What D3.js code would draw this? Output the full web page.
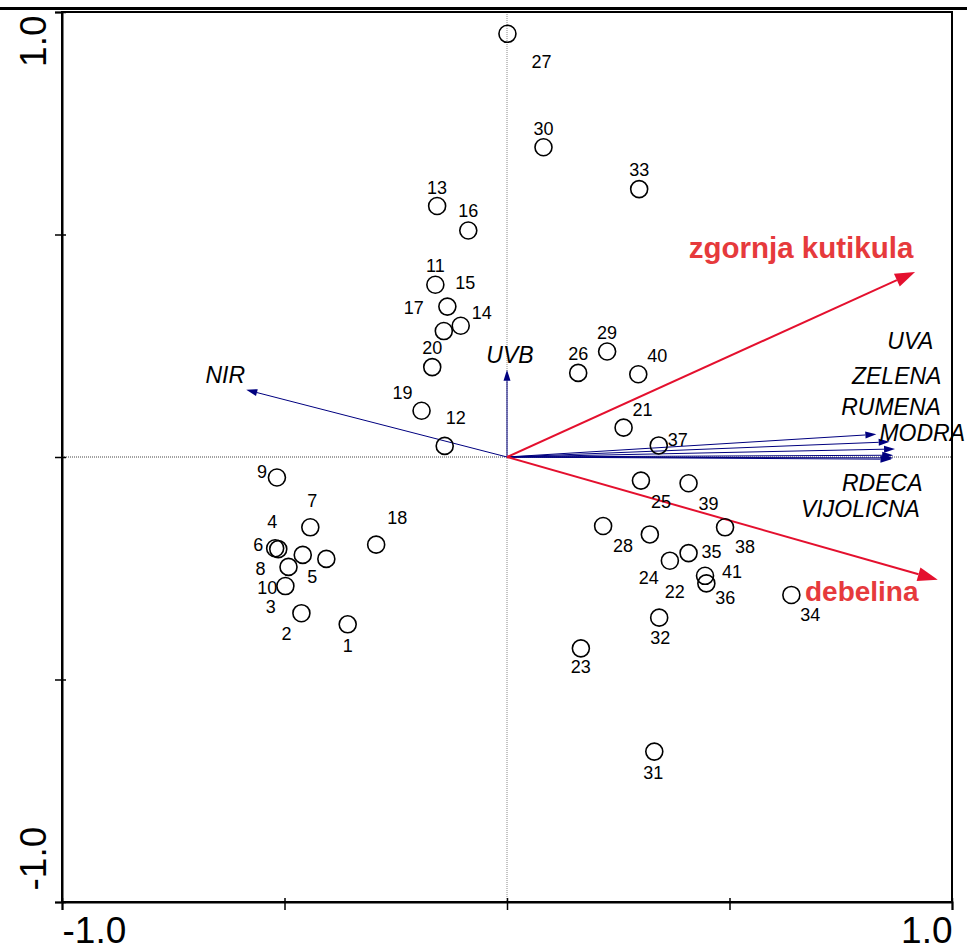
<!DOCTYPE html>
<html>
<head>
<meta charset="utf-8">
<script src="https://cdn.jsdelivr.net/npm/d3@7/dist/d3.min.js"></script>
<style>
  html, body { margin: 0; padding: 0; background: #fff; }
  svg { display: block; }
</style>
</head>
<body>
<svg id="chart" width="967" height="952"></svg>
<script>
// Sample scores (axis 1, axis 2)
const sampleIds = [1, 2, 3, 4, 5, 6, 7, 8, 9, 10,
  11, 12, 13, 14, 15, 16, 17, 18, 19, 20,
  21, 22, 23, 24, 25, 26, 27, 28, 29, 30,
  31, 32, 33, 34, 35, 36, 37, 38, 39, 40, 41];
const sampleX = [-0.358, -0.462, -0.459, -0.521, -0.406, -0.514, -0.442, -0.491, -0.517, -0.498,
  -0.161, -0.140, -0.157, -0.104, -0.134, -0.087, -0.142, -0.294, -0.192, -0.168,
  0.262, 0.366, 0.166, 0.321, 0.301, 0.160, 0.001, 0.216, 0.225, 0.082,
  0.331, 0.342, 0.297, 0.639, 0.408, 0.448, 0.341, 0.490, 0.408, 0.295, 0.445];
const sampleY = [-0.376, -0.351, -0.220, -0.205, -0.229, -0.207, -0.158, -0.247, -0.046, -0.290,
  0.387, 0.025, 0.564, 0.295, 0.338, 0.509, 0.283, -0.197, 0.104, 0.202,
  0.066, -0.233, -0.430, -0.174, -0.053, 0.189, 0.951, -0.155, 0.237, 0.696,
  -0.662, -0.361, 0.602, -0.310, -0.216, -0.284, 0.026, -0.158, -0.059, 0.186, -0.267];

// Environmental variables drawn as biplot arrows
const spectralNames = ["UVA", "ZELENA", "RUMENA", "MODRA", "RDECA", "VIJOLICNA"];
const spectralX = [0.830, 0.860, 0.872, 0.868, 0.868, 0.864];
const spectralY = [0.051, 0.034, 0.018, 0.004, -0.002, -0.005];

const otherNames = ["NIR", "UVB"];
const otherX = [-0.586, 0.0];
const otherY = [0.151, 0.196];

const leafNames = ["zgornja kutikula", "debelina"];
const leafX = [0.917, 0.968];
const leafY = [0.416, -0.276];

const axisTicks = [-1, -0.5, 0, 0.5, 1];
const axisTickLabels = ["-1.0", "", "", "", "1.0"];

// ---- layout ----
const W = 967, H = 952;
const plot = { left: 62, right: 952, top: 12, bottom: 902 };
const BLUE = "#00007f";
const RED_LINE = "#e4102e";
const RED_TEXT = "#e63a3c";

// label placement (pixel offsets from each mark's own position)
const sampleLabelOffset = {
  1: [0, 21], 2: [-15, 20], 3: [-32, 52], 4: [-3, -27], 5: [-14, 18], 6: [-20, -5],
  7: [2, -27], 8: [-28, 2], 9: [-15, -6], 10: [-18, 1], 11: [0, -19], 12: [11, -28],
  13: [0, -19], 14: [21, -13], 15: [18, -24], 16: [0, -20], 17: [-30, -24], 18: [21, -27],
  19: [-19, -18], 20: [0, -20], 21: [19, -18], 22: [5, 31], 23: [0, 18], 24: [-1, 43],
  25: [20, 21], 26: [0, -19], 27: [34, 28], 28: [20, 20], 29: [0, -19], 30: [0, -19],
  31: [-1, 21], 32: [1, 20], 33: [0, -20], 34: [19, 20], 35: [23, -2], 36: [19, 14],
  37: [19, -6], 38: [20, 19], 39: [20, 20], 40: [19, -19], 41: [27, -4]
};
const spectralLabelOffset = {
  UVA: [34, -94], ZELENA: [7, -66], RUMENA: [-4, -42], MODRA: [29, -22],
  RDECA: [-11, 25], VIJOLICNA: [-31, 50]
};
const otherLabelOffset = { NIR: [-21, -15], UVB: [3, -15] };
const leafLabelOffset = { "zgornja kutikula": [-114, -24], debelina: [-76, 11] };

const svg = d3.select("#chart");

const x = d3.scaleLinear().domain([-1, 1]).range([plot.left, plot.right]);
const y = d3.scaleLinear().domain([-1, 1]).range([plot.bottom, plot.top]);

// band above the figure
svg.append("line")
  .attr("x1", 0).attr("x2", W).attr("y1", 8.5).attr("y2", 8.5)
  .attr("stroke", "#000").attr("stroke-width", 3);

// zero reference lines (dotted)
svg.append("line")
  .attr("x1", plot.left).attr("x2", plot.right)
  .attr("y1", y(0)).attr("y2", y(0))
  .attr("stroke", "#444").attr("stroke-width", 1).attr("stroke-dasharray", "1,1");
svg.append("line")
  .attr("x1", x(0)).attr("x2", x(0))
  .attr("y1", plot.top).attr("y2", plot.bottom)
  .attr("stroke", "#888").attr("stroke-width", 1).attr("stroke-dasharray", "1,1");

// frame
svg.append("rect")
  .attr("x", plot.left).attr("y", plot.top)
  .attr("width", plot.right - plot.left).attr("height", plot.bottom - plot.top)
  .attr("fill", "none").attr("stroke", "#000").attr("stroke-width", 2);

// bottom axis
const fmt = d => axisTickLabels[axisTicks.indexOf(d)];
const gx = svg.append("g")
  .attr("transform", `translate(0,${plot.bottom})`)
  .call(d3.axisBottom(x).tickValues(axisTicks).tickFormat(fmt).tickSize(8).tickPadding(12));
gx.select(".domain").attr("stroke", "#000").attr("stroke-width", 2);
gx.selectAll(".tick line").attr("y1", -4).attr("y2", 8).attr("stroke", "#000").attr("stroke-width", 1.5);
gx.selectAll(".tick text")
  .attr("font-family", "'Liberation Sans', Arial, sans-serif")
  .attr("font-size", 37).attr("fill", "#000")
  .attr("dy", null).attr("y", 41)
  .attr("text-anchor", d => d < 0 ? "start" : "end");

// left axis
const gy = svg.append("g")
  .attr("transform", `translate(${plot.left},0)`)
  .call(d3.axisLeft(y).tickValues(axisTicks).tickFormat(fmt).tickSize(7));
gy.select(".domain").attr("stroke", "#000").attr("stroke-width", 2);
gy.selectAll(".tick line").attr("x1", -7).attr("x2", 4).attr("stroke", "#000").attr("stroke-width", 1.5);
gy.selectAll(".tick text")
  .attr("font-family", "'Liberation Sans', Arial, sans-serif")
  .attr("font-size", 37).attr("fill", "#000")
  .attr("x", null).attr("dy", null)
  .attr("transform", d => `translate(-16,${d > 0 ? 3 : -12}) rotate(-90)`)
  .attr("text-anchor", d => d > 0 ? "end" : "start");

// arrow helper: line from origin to tip with a filled head
function arrow(g, tx, ty, color, width, headLen, headHalf) {
  const x0 = x(0), y0 = y(0), x1 = x(tx), y1 = y(ty);
  const ang = Math.atan2(y1 - y0, x1 - x0);
  const bx = x1 - headLen * Math.cos(ang), by = y1 - headLen * Math.sin(ang);
  g.append("line")
    .attr("x1", x0).attr("y1", y0).attr("x2", bx).attr("y2", by)
    .attr("stroke", color).attr("stroke-width", width);
  const px = -Math.sin(ang) * headHalf, py = Math.cos(ang) * headHalf;
  g.append("polygon")
    .attr("points", [[x1, y1], [bx + px, by + py], [bx - px, by - py]].map(p => p.join(",")).join(" "))
    .attr("fill", color);
}

const arrows = svg.append("g");
spectralNames.forEach((n, i) => arrow(arrows, spectralX[i], spectralY[i], BLUE, 1, 11, 3.5));
otherNames.forEach((n, i) => arrow(arrows, otherX[i], otherY[i], BLUE, 1, 11, 3.5));
leafNames.forEach((n, i) => arrow(arrows, leafX[i], leafY[i], RED_LINE, 2, 20, 7));

// sample circles
const samples = sampleIds.map((id, i) => ({ id, sx: sampleX[i], sy: sampleY[i] }));
svg.append("g").selectAll("circle").data(samples).join("circle")
  .attr("cx", d => x(d.sx)).attr("cy", d => y(d.sy)).attr("r", 8.5)
  .attr("fill", "none").attr("stroke", "#000").attr("stroke-width", 1.6);

svg.append("g").selectAll("text").data(samples).join("text")
  .attr("x", d => x(d.sx) + sampleLabelOffset[d.id][0])
  .attr("y", d => y(d.sy) + sampleLabelOffset[d.id][1] + 6.5)
  .attr("text-anchor", "middle")
  .attr("font-family", "'Liberation Sans', Arial, sans-serif")
  .attr("font-size", 18).attr("fill", "#000")
  .text(d => d.id);

// variable labels
const varLabels = svg.append("g")
  .attr("font-family", "'Liberation Sans', Arial, sans-serif");
spectralNames.forEach((n, i) => {
  varLabels.append("text")
    .attr("x", x(spectralX[i]) + spectralLabelOffset[n][0])
    .attr("y", y(spectralY[i]) + spectralLabelOffset[n][1] + 8.2)
    .attr("text-anchor", "middle").attr("font-style", "italic")
    .attr("font-size", 23).attr("fill", "#000").text(n);
});
otherNames.forEach((n, i) => {
  varLabels.append("text")
    .attr("x", x(otherX[i]) + otherLabelOffset[n][0])
    .attr("y", y(otherY[i]) + otherLabelOffset[n][1] + 8.2)
    .attr("text-anchor", "middle").attr("font-style", "italic")
    .attr("font-size", 23).attr("fill", "#000").text(n);
});
leafNames.forEach((n, i) => {
  varLabels.append("text")
    .attr("x", x(leafX[i]) + leafLabelOffset[n][0])
    .attr("y", y(leafY[i]) + leafLabelOffset[n][1] + 10)
    .attr("text-anchor", "middle").attr("font-weight", "bold")
    .attr("font-size", n === "debelina" ? 28 : 29.5).attr("fill", RED_TEXT).text(n);
});
</script>
</body>
</html>
